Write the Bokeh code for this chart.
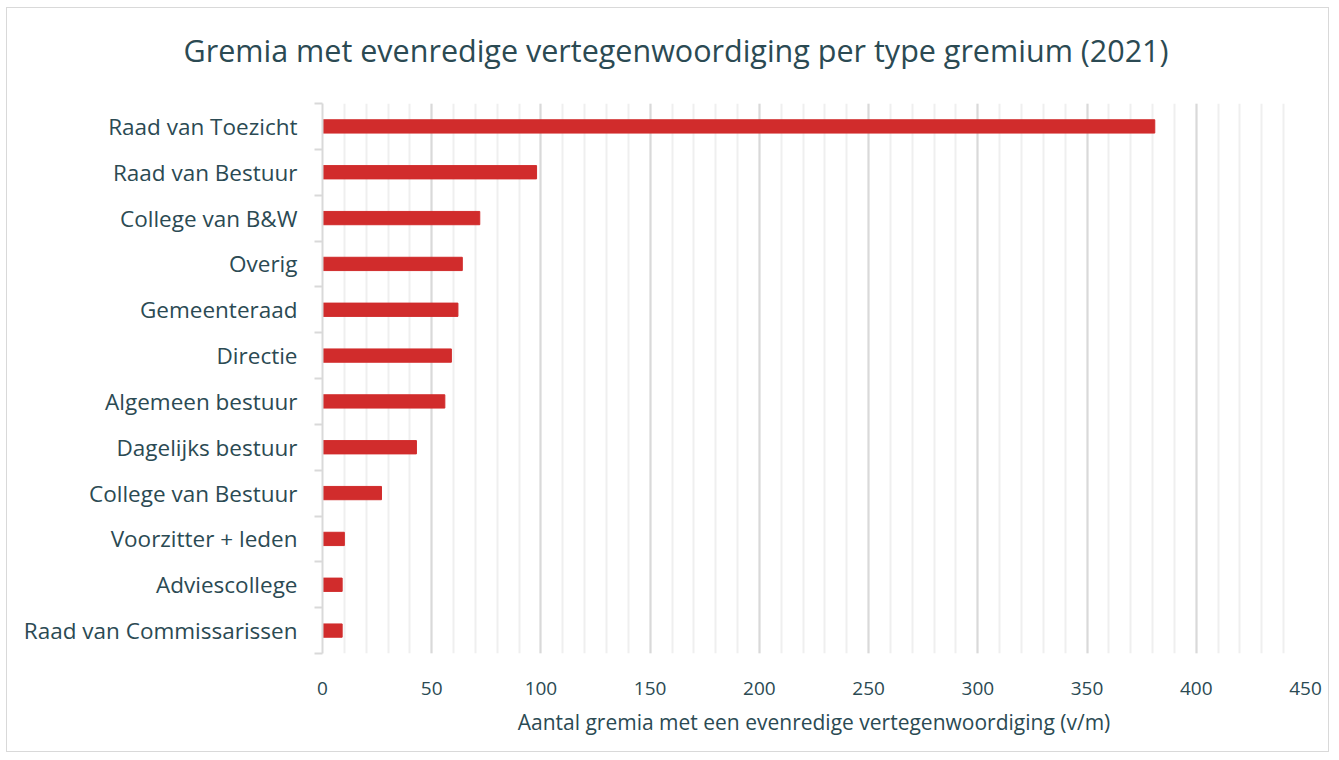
from bokeh.plotting import figure
from bokeh.models import ColumnDataSource, FixedTicker, Range1d
from bokeh.embed import file_html
from bokeh.resources import INLINE

categories = ["Raad van Toezicht", "Raad van Bestuur", "College van B&W", "Overig",
              "Gemeenteraad", "Directie", "Algemeen bestuur", "Dagelijks bestuur",
              "College van Bestuur", "Voorzitter + leden", "Adviescollege",
              "Raad van Commissarissen"]
values = [381, 98, 72, 64, 62, 59, 56, 43, 27, 10, 9, 9]
x_ticks = [0, 50, 100, 150, 200, 250, 300, 350, 400, 450]

TEXT = "#2b4a53"
FONT = "Open Sans"

n = len(categories)
# top category at the top
ypos = [n - 1 - i + 0.5 for i in range(n)]
src = ColumnDataSource(dict(cat=categories, val=values, y=ypos))

p = figure(width=1323, height=745, output_backend="svg", toolbar_location=None,
           x_range=Range1d(0, 450), y_range=Range1d(0, n),
           min_border_left=315, min_border_right=25, min_border_top=95, min_border_bottom=100,
           title="Gremia met evenredige vertegenwoordiging per type gremium (2021)\n")
p.styles = {"border": "1px solid #d9d9d9", "margin-left": "6px", "margin-top": "7px"}

p.hbar(y="y", right="val", left=0, height=0.29, source=src, color="#d12c2c")

p.title.align = "left"
p.title.offset = -139
p.title.text_font = FONT
p.title.text_font_size = "30.5px"
p.title.text_font_style = "normal"
p.title.text_color = TEXT
p.title.text_line_height = 0.65

# x axis
p.xaxis.ticker = FixedTicker(ticks=x_ticks, minor_ticks=list(range(0, 451, 10)))
p.xaxis.axis_line_color = None
p.xaxis.major_tick_line_color = None
p.xaxis.minor_tick_line_color = None
p.xaxis.major_label_text_font = FONT
p.xaxis.major_label_text_font_size = "19px"
p.xaxis.major_label_text_color = TEXT
p.xaxis.major_label_standoff = 22
p.xaxis.axis_label = "Aantal gremia met een evenredige vertegenwoordiging (v/m)"
p.xaxis.axis_label_text_font = FONT
p.xaxis.axis_label_text_font_size = "21px"
p.xaxis.axis_label_text_font_style = "normal"
p.xaxis.axis_label_text_color = TEXT
p.xaxis.axis_label_standoff = 10

p.xgrid.grid_line_color = "#d9d9d9"
p.xgrid.grid_line_width = 2
p.xgrid.minor_grid_line_color = "#efefef"
p.xgrid.minor_grid_line_width = 2
p.ygrid.grid_line_color = None

# y axis: labels at category centres, tick marks at category boundaries
p.yaxis.ticker = FixedTicker(ticks=ypos, minor_ticks=list(range(0, n + 1)))
p.yaxis.major_label_overrides = {y: c for y, c in zip(ypos, categories)}
p.yaxis.axis_line_color = "#d9d9d9"
p.yaxis.axis_line_width = 2
p.yaxis.major_tick_line_color = None
p.yaxis.minor_tick_line_color = "#d9d9d9"
p.yaxis.minor_tick_line_width = 2
p.yaxis.minor_tick_out = 8
p.yaxis.minor_tick_in = 0
p.yaxis.major_label_text_font = FONT
p.yaxis.major_label_text_font_size = "22.5px"
p.yaxis.major_label_text_color = TEXT
p.yaxis.major_label_standoff = 17

p.outline_line_color = None

open("out.html", "w").write(file_html(p, INLINE))
